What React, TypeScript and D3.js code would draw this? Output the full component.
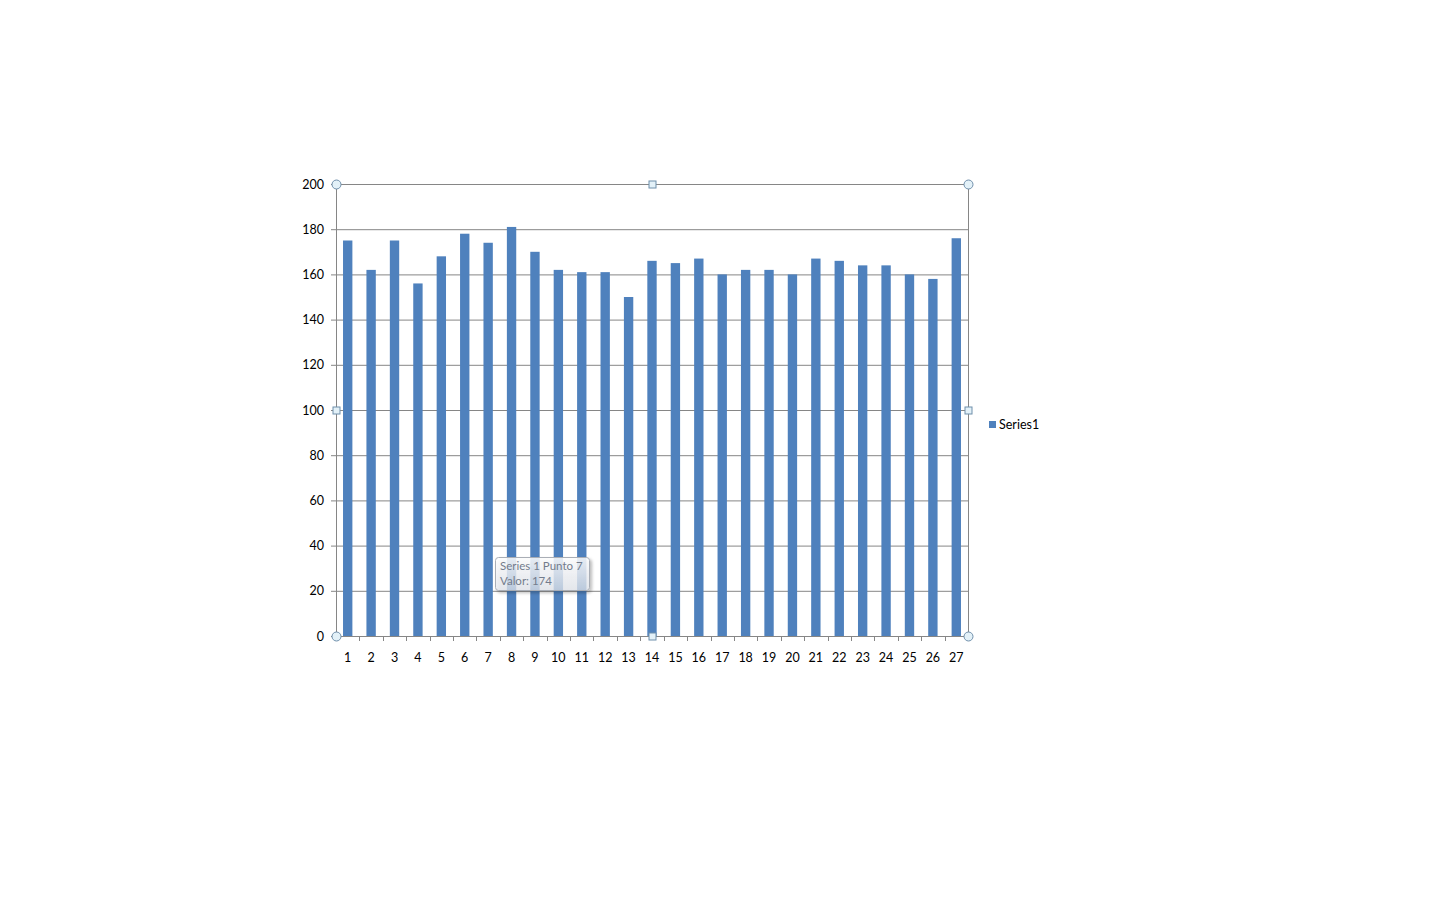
import React from "react";
import * as d3 from "d3";

const categories: string[] = Array.from({ length: 27 }, (_, i) => String(i + 1));
const values: number[] = [
  175, 162, 175, 156, 168, 178, 174, 181, 170, 162, 161, 161, 150, 166,
  165, 167, 160, 162, 162, 160, 167, 166, 164, 164, 160, 158, 176,
];
const yTicks: number[] = [0, 20, 40, 60, 80, 100, 120, 140, 160, 180, 200];
const seriesName = "Series1";
const tooltipLines: string[] = ["Series 1 Punto 7", "Valor: 174"];

const W = 1440;
const H = 900;
const left = 336;
const right = 968;
const top = 184;
const bottom = 636;
const font = "Lato, 'Open Sans', sans-serif";
const barColor = "#4f81bd";
const gridColor = "#868686";
const handleStroke = "#6f8fab";
const handleFill = "#e3f1f8";

export default function App() {
  const x = d3.scaleBand<string>().domain(categories).range([left, right]).paddingInner(0.6).paddingOuter(0.3);
  const xb = d3.scaleBand<string>().domain(categories).range([left, right]);
  const y = d3.scaleLinear().domain([0, 200]).range([bottom, top]);

  const circles = [
    [left, top],
    [right, top],
    [left, bottom],
    [right, bottom],
  ];
  const squares = [
    [(left + right) / 2, top],
    [left, (top + bottom) / 2],
    [right, (top + bottom) / 2],
    [(left + right) / 2, bottom],
  ];

  const tipX = 495;
  const tipY = 557;

  return (
    <svg width={W} height={H} style={{ position: "absolute", left: 0, top: 0, background: "#fff" }}>
      <defs>
        <linearGradient id="tipGrad" x1="0" y1="0" x2="0" y2="1">
          <stop offset="0" stopColor="#ffffff" stopOpacity={0.85} />
          <stop offset="1" stopColor="#e4e8ef" stopOpacity={0.7} />
        </linearGradient>
        <filter id="tipShadow" x="-20%" y="-20%" width="150%" height="160%">
          <feDropShadow dx="2" dy="2" stdDeviation="1.5" floodColor="#000" floodOpacity={0.3} />
        </filter>
      </defs>

      {/* gridlines and y ticks */}
      {yTicks.map((t) => (
        <g key={t}>
          <line x1={left - 5} x2={right} y1={y(t) + 0.5} y2={y(t) + 0.5} stroke={gridColor} strokeWidth={1} />
          <text x={324} y={y(t) + 4.5} textAnchor="end" fontFamily={font} fontSize={12.5} fill="#000">
            {t}
          </text>
        </g>
      ))}

      {/* bars */}
      {values.map((v, i) => (
        <rect
          key={i}
          x={x(categories[i])!}
          y={y(v)}
          width={x.bandwidth()}
          height={bottom - y(v)}
          fill={barColor}
        />
      ))}

      {/* axes */}
      <line x1={left + 0.5} x2={left + 0.5} y1={top} y2={bottom} stroke={gridColor} />
      <line x1={right + 0.5} x2={right + 0.5} y1={top} y2={bottom} stroke={gridColor} />
      <line x1={left} x2={right} y1={bottom + 0.5} y2={bottom + 0.5} stroke={gridColor} />
      {categories.map((c, i) => (
        <line
          key={"t" + c}
          x1={Math.round(xb(c)!) + 0.5}
          x2={Math.round(xb(c)!) + 0.5}
          y1={bottom}
          y2={bottom + 5}
          stroke={gridColor}
          opacity={i === 0 ? 0 : 1}
        />
      ))}
      <line x1={right + 0.5} x2={right + 0.5} y1={bottom} y2={bottom + 5} stroke={gridColor} />
      {categories.map((c) => (
        <text
          key={"l" + c}
          x={xb(c)! + xb.bandwidth() / 2}
          y={662}
          textAnchor="middle"
          fontFamily={font}
          fontSize={12.5}
          fill="#000"
        >
          {c}
        </text>
      ))}

      {/* legend */}
      <rect x={989} y={421} width={7} height={7} fill={barColor} />
      <text x={999} y={429} fontFamily={font} fontSize={12.5} fill="#000">
        {seriesName}
      </text>

      {/* selection handles */}
      {circles.map(([cx, cy], i) => (
        <circle key={"c" + i} cx={cx + 0.5} cy={cy + 0.5} r={4.5} fill={handleFill} stroke={handleStroke} />
      ))}
      {squares.map(([sx, sy], i) => (
        <rect
          key={"s" + i}
          x={Math.round(sx) - 3}
          y={Math.round(sy) - 3}
          width={7}
          height={7}
          fill={handleFill}
          stroke={handleStroke}
        />
      ))}

      {/* hover tooltip */}
      <g filter="url(#tipShadow)">
        <rect x={tipX + 0.5} y={tipY + 0.5} width={94} height={33} rx={3} fill="url(#tipGrad)" stroke="#a9aeb6" />
      </g>
      {tooltipLines.map((line, i) => (
        <text
          key={"tip" + i}
          x={tipX + 5}
          y={tipY + 13 + i * 15}
          fontFamily={font}
          fontSize={11.5}
          fill="#737c8c"
        >
          {line}
        </text>
      ))}
    </svg>
  );
}
